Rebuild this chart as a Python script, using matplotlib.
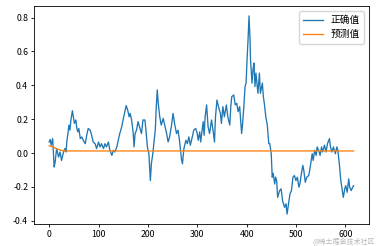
import matplotlib
matplotlib.use("Agg")
import matplotlib.pyplot as plt

plt.rcParams['font.family'] = ['Noto Sans CJK SC', 'DejaVu Sans']
plt.rcParams['axes.unicode_minus'] = False

# True values (index, value)
true_idx = [0, 2, 4, 7, 10, 12, 15, 19, 22, 25, 29, 32, 34, 36, 38, 40, 42, 44, 47, 49,
            51, 54, 56, 58, 60, 63, 66, 69, 73, 76, 79, 83, 86, 89, 93, 96, 100, 103, 106, 110,
            113, 116, 120, 123, 127, 130, 133, 137, 140, 143, 147, 150, 153, 156, 159, 162, 164, 167, 170, 172,
            174, 177, 180, 184, 187, 190, 194, 196, 199, 202, 205, 207, 210, 212, 215, 217, 219, 221, 224, 227,
            231, 234, 238, 241, 244, 248, 251, 254, 258, 261, 264, 268, 270, 273, 277, 280, 283, 286, 290, 293,
            297, 300, 302, 305, 307, 310, 312, 314, 316, 319, 322, 325, 329, 332, 335, 337, 340, 343, 347, 349,
            352, 355, 359, 362, 366, 368, 370, 374, 377, 380, 383, 386, 388, 390, 392, 394, 397, 399, 401, 403,
            405, 407, 408, 411, 413, 415, 417, 419, 423, 426, 428, 432, 434, 436, 439, 442, 445, 447, 450, 452,
            454, 457, 459, 461, 463, 467, 470, 473, 477, 480, 482, 485, 488, 491, 494, 497, 500, 503, 506, 508,
            511, 514, 516, 519, 522, 526, 529, 533, 535, 538, 541, 543, 546, 549, 552, 554, 558, 561, 564, 568,
            570, 573, 576, 580, 583, 585, 588, 591, 593, 596, 599, 601, 604, 607, 609, 612, 615, 617]
true_val = [0.065, 0.080, 0.046, 0.085, -0.083, -0.054, 0.026, -0.024, 0.006, -0.044, 0.006, 0.026, 0.006, 0.075, 0.115, 0.165, 0.135, 0.195, 0.250, 0.214,
            0.175, 0.195, 0.145, 0.125, 0.145, 0.085, 0.095, 0.075, 0.055, 0.105, 0.145, 0.135, 0.105, 0.065, 0.055, 0.026, 0.065, 0.036, 0.055, 0.026,
            0.055, 0.036, 0.065, 0.016, -0.014, 0.016, 0.006, 0.036, 0.075, 0.115, 0.155, 0.200, 0.240, 0.280, 0.254, 0.214, 0.234, 0.195, 0.125, 0.036,
            0.115, 0.135, 0.185, 0.145, 0.115, 0.195, 0.195, 0.135, 0.036, -0.004, -0.163, -0.064, -0.004, 0.055, 0.135, 0.274, 0.373, 0.293, 0.214, 0.165,
            0.204, 0.165, 0.115, 0.065, 0.095, 0.165, 0.234, 0.175, 0.115, 0.135, 0.075, -0.034, -0.064, 0.026, 0.075, 0.055, 0.095, 0.046, 0.095, 0.135,
            0.145, 0.115, 0.075, 0.125, 0.065, 0.135, 0.185, 0.105, 0.214, 0.284, 0.155, 0.115, 0.195, 0.135, 0.065, 0.214, 0.313, 0.274, 0.234, 0.175,
            0.274, 0.214, 0.284, 0.214, 0.165, 0.274, 0.333, 0.343, 0.284, 0.294, 0.244, 0.274, 0.195, 0.115, 0.175, 0.254, 0.393, 0.413, 0.552, 0.670,
            0.810, 0.670, 0.552, 0.413, 0.492, 0.532, 0.393, 0.472, 0.353, 0.472, 0.353, 0.413, 0.333, 0.293, 0.214, 0.165, 0.055, 0.056, -0.004, -0.143,
            -0.120, -0.183, -0.143, -0.163, -0.262, -0.222, -0.212, -0.282, -0.321, -0.300, -0.361, -0.300, -0.242, -0.222, -0.143, -0.133, -0.163, -0.143, -0.202, -0.183,
            -0.123, -0.073, -0.103, -0.173, -0.143, -0.133, -0.083, -0.004, -0.044, 0.016, -0.014, 0.036, 0.016, -0.014, 0.036, 0.006, 0.046, 0.006, 0.055, 0.085,
            0.036, 0.006, 0.036, -0.004, 0.036, 0.016, -0.064, -0.163, -0.202, -0.262, -0.212, -0.193, -0.232, -0.153, -0.202, -0.222, -0.202, -0.193]

# Predicted values (index, value)
pred_idx = [0, 5, 10, 15, 20, 25, 30, 40, 617]
pred_val = [0.042, 0.038, 0.032, 0.025, 0.019, 0.015, 0.013, 0.012, 0.012]

labels = ['正确值', '预测值']

fig = plt.figure(figsize=(3.76, 2.46), dpi=100)
ax = fig.add_axes([0.0904, 0.0894, 0.8906, 0.8862])
ax.plot(true_idx, true_val, color='#1f77b4', lw=0.95, label=labels[0])
ax.plot(pred_idx, pred_val, color='#ff7f0e', lw=0.95, label=labels[1])
ax.set_xticks([0, 100, 200, 300, 400, 500, 600])
ax.set_yticks([-0.4, -0.2, 0.0, 0.2, 0.4, 0.6, 0.8])
ax.tick_params(labelsize=6.3, length=2.2, width=0.6, pad=2)
for s in ax.spines.values():
    s.set_linewidth(0.6)
ax.legend(loc='upper right', fontsize=7, handlelength=2.0, borderpad=0.45,
          labelspacing=0.4, framealpha=0.8, edgecolor='#cccccc')
fig.text(0.998, 0.0, '@稀土掘金技术社区', ha='right', va='bottom', fontsize=5,
         color='#999999', alpha=0.7)
fig.savefig('out.png', dpi=100)
